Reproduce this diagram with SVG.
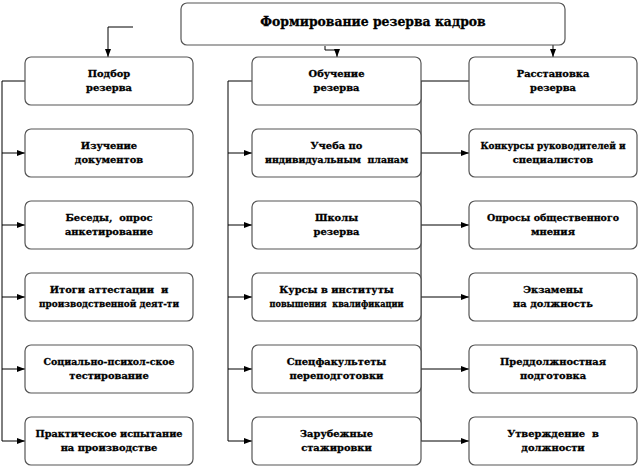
<svg xmlns="http://www.w3.org/2000/svg" width="640" height="468" viewBox="0 0 640 468">
<style>
.box{fill:#fff;stroke:#555;stroke-width:1.2}
.t{font-family:"DejaVu Serif","Liberation Serif",serif;font-weight:bold;font-size:9.9px;fill:#000;stroke:#000;stroke-width:0.3;text-anchor:middle}
.title{font-size:12.4px}
.c{fill:none;stroke:#000;stroke-width:1}
</style>
<defs>
<marker id="ah" viewBox="0 0 8 6" refX="8" refY="3" markerWidth="8" markerHeight="6" markerUnits="userSpaceOnUse" orient="auto">
<path d="M0,0 L8,3 L0,6 Z" fill="#000"/>
</marker>
</defs>
<rect width="640" height="468" fill="#fff"/>
<g id="connectors">
<path class="c" d="M133,27 H108 V57" marker-end="url(#ah)"/>
<path class="c" d="M325,46 V50 H337 V57" marker-end="url(#ah)"/>
<path class="c" d="M517,28 H553 V57" marker-end="url(#ah)"/>
<path class="c" d="M25,81 H2 V441"/>
<path class="c" d="M2,153 H25" marker-end="url(#ah)"/>
<path class="c" d="M2,225 H25" marker-end="url(#ah)"/>
<path class="c" d="M2,297 H25" marker-end="url(#ah)"/>
<path class="c" d="M2,369 H25" marker-end="url(#ah)"/>
<path class="c" d="M2,441 H25" marker-end="url(#ah)"/>
<path class="c" d="M252,81 H228 V441"/>
<path class="c" d="M228,153 H252" marker-end="url(#ah)"/>
<path class="c" d="M228,225 H252" marker-end="url(#ah)"/>
<path class="c" d="M228,297 H252" marker-end="url(#ah)"/>
<path class="c" d="M228,369 H252" marker-end="url(#ah)"/>
<path class="c" d="M228,441 H252" marker-end="url(#ah)"/>
<path class="c" d="M421,81 V441"/>
<path class="c" d="M421,81 H469"/>
<path class="c" d="M421,153 H469" marker-end="url(#ah)"/>
<path class="c" d="M421,225 H469" marker-end="url(#ah)"/>
<path class="c" d="M421,297 H469" marker-end="url(#ah)"/>
<path class="c" d="M421,369 H469" marker-end="url(#ah)"/>
<path class="c" d="M421,441 H469" marker-end="url(#ah)"/>
</g>
<g id="title"><rect class="box" x="181" y="3" width="384" height="42" rx="6"/><text class="t title" x="373" y="26">Формирование резерва кадров</text></g>
<g id="c1r1"><rect class="box" x="25" y="57" width="168" height="48" rx="6"/><text class="t" x="109" y="77">Подбор</text><text class="t" x="109" y="91">резерва</text></g>
<g id="c1r2"><rect class="box" x="25" y="129" width="168" height="48" rx="6"/><text class="t" x="109" y="149">Изучение</text><text class="t" x="109" y="163">документов</text></g>
<g id="c1r3"><rect class="box" x="25" y="201" width="168" height="48" rx="6"/><text class="t" x="109" y="221" xml:space="preserve">Беседы,  опрос</text><text class="t" x="109" y="235">анкетирование</text></g>
<g id="c1r4"><rect class="box" x="25" y="273" width="168" height="48" rx="6"/><text class="t" x="109" y="293" xml:space="preserve">Итоги аттестации  и</text><text class="t" x="109" y="307" textLength="140" lengthAdjust="spacingAndGlyphs">производственной деят-ти</text></g>
<g id="c1r5"><rect class="box" x="25" y="345" width="168" height="48" rx="6"/><text class="t" x="109" y="365" textLength="131" lengthAdjust="spacingAndGlyphs">Социально-психол-ское</text><text class="t" x="109" y="379">тестирование</text></g>
<g id="c1r6"><rect class="box" x="25" y="417" width="168" height="48" rx="6"/><text class="t" x="109" y="437" textLength="147" lengthAdjust="spacingAndGlyphs">Практическое испытание</text><text class="t" x="109" y="451">на производстве</text></g>
<g id="c2r1"><rect class="box" x="252" y="57" width="169" height="48" rx="6"/><text class="t" x="336.5" y="77">Обучение</text><text class="t" x="336.5" y="91">резерва</text></g>
<g id="c2r2"><rect class="box" x="252" y="129" width="169" height="48" rx="6"/><text class="t" x="336.5" y="149">Учеба по</text><text class="t" x="336.5" y="163" xml:space="preserve" textLength="143" lengthAdjust="spacingAndGlyphs">индивидуальным  планам</text></g>
<g id="c2r3"><rect class="box" x="252" y="201" width="169" height="48" rx="6"/><text class="t" x="336.5" y="221">Школы</text><text class="t" x="336.5" y="235">резерва</text></g>
<g id="c2r4"><rect class="box" x="252" y="273" width="169" height="48" rx="6"/><text class="t" x="336.5" y="293">Курсы в институты</text><text class="t" x="336.5" y="307" xml:space="preserve" textLength="134" lengthAdjust="spacingAndGlyphs">повышения  квалификации</text></g>
<g id="c2r5"><rect class="box" x="252" y="345" width="169" height="48" rx="6"/><text class="t" x="336.5" y="365">Спецфакультеты</text><text class="t" x="336.5" y="379">переподготовки</text></g>
<g id="c2r6"><rect class="box" x="252" y="417" width="169" height="48" rx="6"/><text class="t" x="336.5" y="437">Зарубежные</text><text class="t" x="336.5" y="451">стажировки</text></g>
<g id="c3r1"><rect class="box" x="469" y="57" width="168" height="48" rx="6"/><text class="t" x="553" y="77">Расстановка</text><text class="t" x="553" y="91">резерва</text></g>
<g id="c3r2"><rect class="box" x="469" y="129" width="168" height="48" rx="6"/><text class="t" x="553" y="149" textLength="145" lengthAdjust="spacingAndGlyphs">Конкурсы руководителей и</text><text class="t" x="553" y="163">специалистов</text></g>
<g id="c3r3"><rect class="box" x="469" y="201" width="168" height="48" rx="6"/><text class="t" x="553" y="221" textLength="132" lengthAdjust="spacingAndGlyphs">Опросы общественного</text><text class="t" x="553" y="235">мнения</text></g>
<g id="c3r4"><rect class="box" x="469" y="273" width="168" height="48" rx="6"/><text class="t" x="553" y="293">Экзамены</text><text class="t" x="553" y="307">на должность</text></g>
<g id="c3r5"><rect class="box" x="469" y="345" width="168" height="48" rx="6"/><text class="t" x="553" y="365">Преддолжностная</text><text class="t" x="553" y="379">подготовка</text></g>
<g id="c3r6"><rect class="box" x="469" y="417" width="168" height="48" rx="6"/><text class="t" x="553" y="437" xml:space="preserve">Утверждение  в</text><text class="t" x="553" y="451">должности</text></g>
</svg>
